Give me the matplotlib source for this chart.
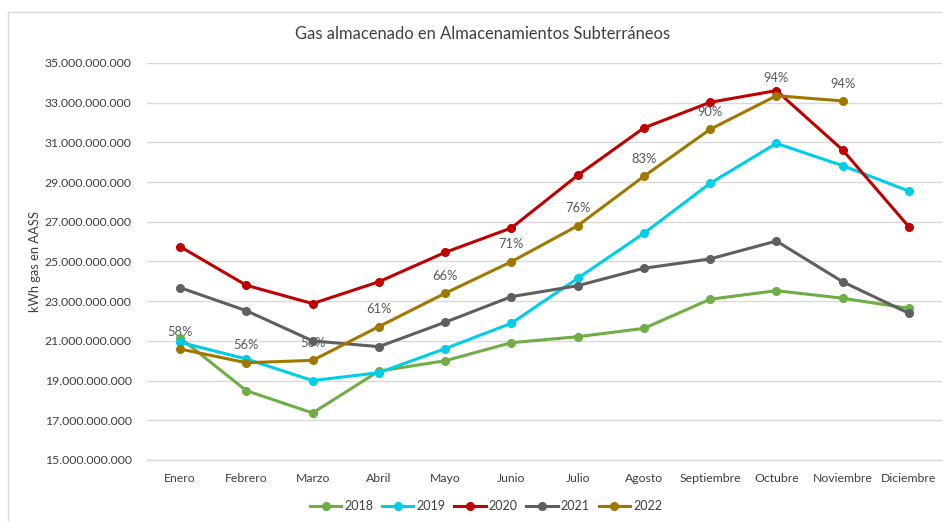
import matplotlib
matplotlib.use("Agg")
import matplotlib.pyplot as plt
from matplotlib.lines import Line2D
from matplotlib.ticker import FuncFormatter

plt.rcParams["font.family"] = ["Lato", "DejaVu Sans"]

MONTHS = ["Enero", "Febrero", "Marzo", "Abril", "Mayo", "Junio", "Julio",
          "Agosto", "Septiembre", "Octubre", "Noviembre", "Diciembre"]

# values in billions of kWh
Y2018 = [21.15, 18.49, 17.37, 19.48, 20.00, 20.91, 21.21, 21.63, 23.10, 23.53, 23.15, 22.64]
Y2019 = [20.93, 20.09, 19.00, 19.40, 20.61, 21.89, 24.15, 26.42, 28.94, 30.95, 29.83, 28.55]
Y2020 = [25.75, 23.80, 22.88, 23.98, 25.46, 26.69, 29.34, 31.73, 33.02, 33.61, 30.62, 26.75]
Y2021 = [23.68, 22.52, 21.00, 20.71, 21.94, 23.23, 23.78, 24.66, 25.13, 26.03, 23.98, 22.39]
Y2022 = [20.59, 19.90, 20.02, 21.72, 23.40, 24.99, 26.80, 29.29, 31.66, 33.35, 33.09]
PCT_2022 = ["58%", "56%", "56%", "61%", "66%", "71%", "76%", "83%", "90%", "94%", "94%"]
Y_TICKS = [15, 17, 19, 21, 23, 25, 27, 29, 31, 33, 35]

SERIES = [
    ("2018", Y2018, "#70ad47"),
    ("2019", Y2019, "#00cde6"),
    ("2020", Y2020, "#c00000"),
    ("2021", Y2021, "#5f5f5f"),
    ("2022", Y2022, "#a07800"),
]


def thousands(v, _pos):
    return f"{int(round(v)):,}".replace(",", ".")


fig = plt.figure(figsize=(9.43, 5.21), dpi=100)
ax = fig.add_axes([147 / 943, 1 - 460 / 521, 795 / 943, 397 / 521])

x = list(range(len(MONTHS)))
for name, vals, color in SERIES:
    ax.plot(x[:len(vals)], [v * 1e9 for v in vals], color=color, linewidth=2.2,
            marker="o", markersize=5.5, label=name, zorder=3)

for i, (lab, v) in enumerate(zip(PCT_2022, Y2022)):
    ax.annotate(lab, (i, v * 1e9), xytext=(0, 12.5), textcoords="offset points",
                ha="center", va="center", fontsize=9.3, color="#595959", zorder=2)

ax.set_xlim(-0.5, len(MONTHS) - 0.5)
ax.set_ylim(15e9, 35e9)
ax.set_yticks([t * 1e9 for t in Y_TICKS])
ax.yaxis.set_major_formatter(FuncFormatter(thousands))
ax.set_xticks(x)
ax.set_xticklabels(MONTHS)
ax.tick_params(axis="both", length=0, labelsize=8.8, labelcolor="#404040")
ax.tick_params(axis="y", pad=11)
ax.tick_params(axis="x", pad=9)
ax.grid(axis="y", color="#d9d9d9", linewidth=1.0, zorder=0)
ax.set_axisbelow(True)
for side in ["top", "right", "left"]:
    ax.spines[side].set_visible(False)
ax.spines["bottom"].set_color("#d9d9d9")
ax.spines["bottom"].set_linewidth(1.0)

ax.set_ylabel("kWh gas en AASS", fontsize=9.3, color="#404040", labelpad=3)
fig.text(483 / 943, 1 - 34 / 521, "Gas almacenado en Almacenamientos Subterráneos",
         ha="center", va="center", fontsize=11.9, color="#404040")

fig.legend(loc="center", bbox_to_anchor=(486 / 943, 1 - 506 / 521), ncol=5,
           frameon=False, fontsize=9, handlelength=2.5, columnspacing=0.7,
           handletextpad=0.25, labelcolor="#404040")

# chart area border
fig.add_artist(Line2D([8 / 943, 8 / 943], [0, 1 - 12 / 521], color="#d9d9d9",
                      linewidth=1.0, transform=fig.transFigure))
fig.add_artist(Line2D([8 / 943, 1], [1 - 12 / 521, 1 - 12 / 521], color="#d9d9d9",
                      linewidth=1.0, transform=fig.transFigure))

fig.savefig("out.png", dpi=100)
